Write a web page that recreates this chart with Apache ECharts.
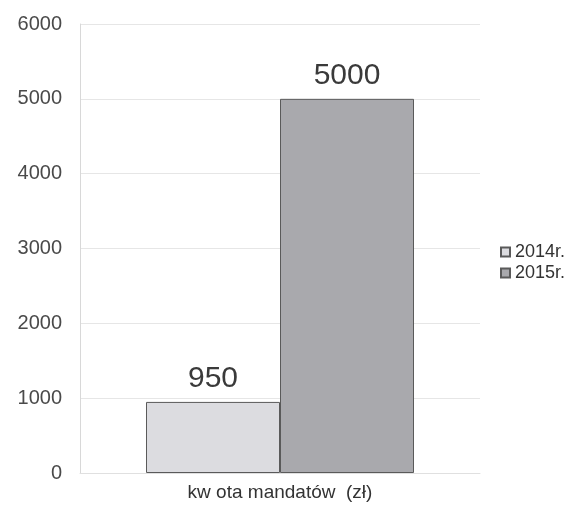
<!DOCTYPE html>
<html>
<head>
<meta charset="utf-8">
<script src="https://cdn.jsdelivr.net/npm/echarts@6/dist/echarts.min.js"></script>
<style>
  html, body { margin: 0; padding: 0; background: #fff; }
  #chart { width: 582px; height: 515px; }
</style>
</head>
<body>
<div id="chart"></div>
<script>
// Fine amounts by year
const categories = ['kw ota mandatów  (zł)'];
const seriesNames = ['2014r.', '2015r.'];
const values2014 = [950];
const values2015 = [5000];
const yTicks = [0, 1000, 2000, 3000, 4000, 5000, 6000];

const chart = echarts.init(document.getElementById('chart'));
const fontFamily = 'Liberation Sans, Arial, sans-serif';

const barStyle = (color) => ({
  color: color,
  borderColor: '#5a5a5a',
  borderWidth: 1
});

const valueLabel = {
  show: true,
  position: 'top',
  fontSize: 30,
  color: '#3a3a3a',
  distance: 8
};

chart.setOption({
  animation: false,
  textStyle: { fontFamily: fontFamily },
  grid: { left: 80, right: 102, top: 24, bottom: 42, containLabel: false },
  legend: {
    orient: 'vertical',
    left: 495,
    top: 238,
    icon: 'rect',
    itemWidth: 9,
    itemHeight: 9,
    itemGap: 3,
    textStyle: { fontSize: 18, lineHeight: 18, color: '#333', fontFamily: fontFamily },
    data: seriesNames
  },
  xAxis: {
    type: 'category',
    data: categories,
    axisLine: { show: true, lineStyle: { color: '#e0e0e0' } },
    axisTick: { show: false },
    axisLabel: { fontSize: 19, color: '#333', margin: 10 }
  },
  yAxis: {
    type: 'value',
    min: yTicks[0],
    max: yTicks[yTicks.length - 1],
    interval: 1000,
    axisLine: { show: true, lineStyle: { color: '#d8d8d8' } },
    axisTick: { show: false },
    splitLine: { show: true, lineStyle: { color: '#e6e6e6' } },
    axisLabel: { fontSize: 20, color: '#4a4a4a', margin: 18, formatter: (v) => String(v) }
  },
  series: [
    {
      name: seriesNames[0],
      type: 'bar',
      data: values2014,
      barGap: '0%',
      barCategoryGap: '33%',
      itemStyle: barStyle('#dcdce0'),
      label: valueLabel
    },
    {
      name: seriesNames[1],
      type: 'bar',
      data: values2015,
      barGap: '0%',
      barCategoryGap: '33%',
      itemStyle: barStyle('#a9a9ad'),
      label: valueLabel
    }
  ]
});
</script>
</body>
</html>
